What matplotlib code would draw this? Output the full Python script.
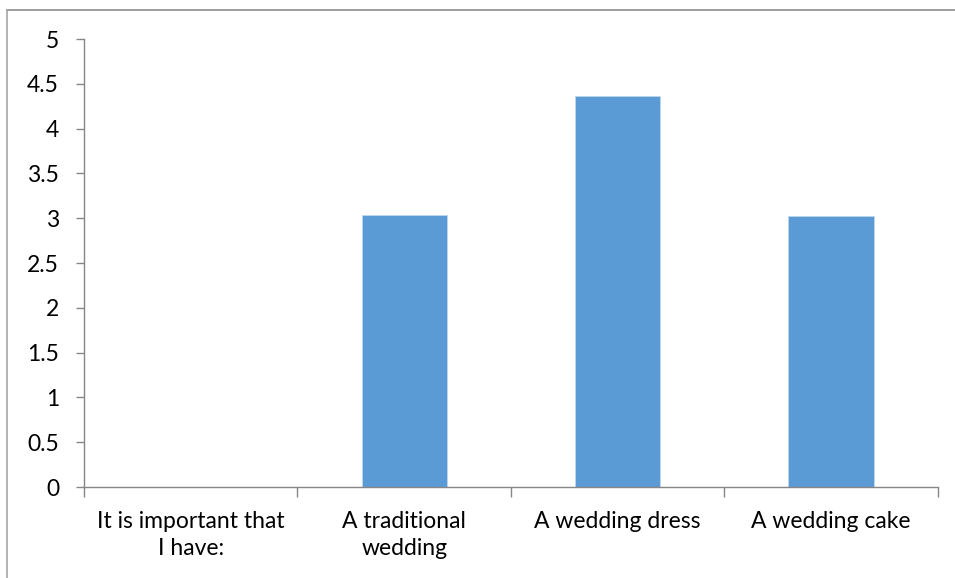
import numpy as np
import matplotlib.pyplot as plt
from matplotlib.lines import Line2D

categories = ["It is important that\nI have:", "A traditional\nwedding", "A wedding dress", "A wedding cake"]
values = [np.nan, 3.04, 4.36, 3.02]
yticks = [0, 0.5, 1, 1.5, 2, 2.5, 3, 3.5, 4, 4.5, 5]
ytick_labels = ["0", "0.5", "1", "1.5", "2", "2.5", "3", "3.5", "4", "4.5", "5"]

plt.rcParams['font.family'] = ['Lato', 'DejaVu Sans']
axis_grey = '#868686'

fig = plt.figure(figsize=(9.55, 5.78), dpi=100)
ax = fig.add_axes([0.088, 0.1574, 0.894, 0.7751])

x = np.arange(len(categories))
ax.bar(x, values, width=0.4, color='#5b9bd5', edgecolor='#bdd7ee', linewidth=0.6)

ax.set_xlim(-0.5, len(categories) - 0.5)
ax.set_ylim(0, 5)
ax.set_yticks(yticks)
ax.set_yticklabels(ytick_labels, fontsize=16.5)

# category labels sit between the boundary ticks
ax.set_xticks(x)
ax.set_xticklabels(categories, fontsize=16.5, linespacing=1.4)
ax.tick_params(axis='x', length=0, pad=17)
ax.set_xticks(np.arange(-0.5, len(categories), 1), minor=True)
ax.tick_params(axis='x', which='minor', length=7, color=axis_grey, width=1)
ax.tick_params(axis='y', length=6, color=axis_grey, width=1, pad=12)

for side in ['top', 'right']:
    ax.spines[side].set_visible(False)
for side in ['left', 'bottom']:
    ax.spines[side].set_color(axis_grey)
    ax.spines[side].set_linewidth(1)

# chart frame, only top and left edges fall inside the image
fig.lines.append(Line2D([0.0078, 1.0], [0.9835, 0.9835], transform=fig.transFigure,
                        color='#8c8c8c', linewidth=1.2))
fig.lines.append(Line2D([0.0078, 0.0078], [0.0, 0.9835], transform=fig.transFigure,
                        color='#a6a6a6', linewidth=1.2))

fig.savefig('out.png', dpi=100)
